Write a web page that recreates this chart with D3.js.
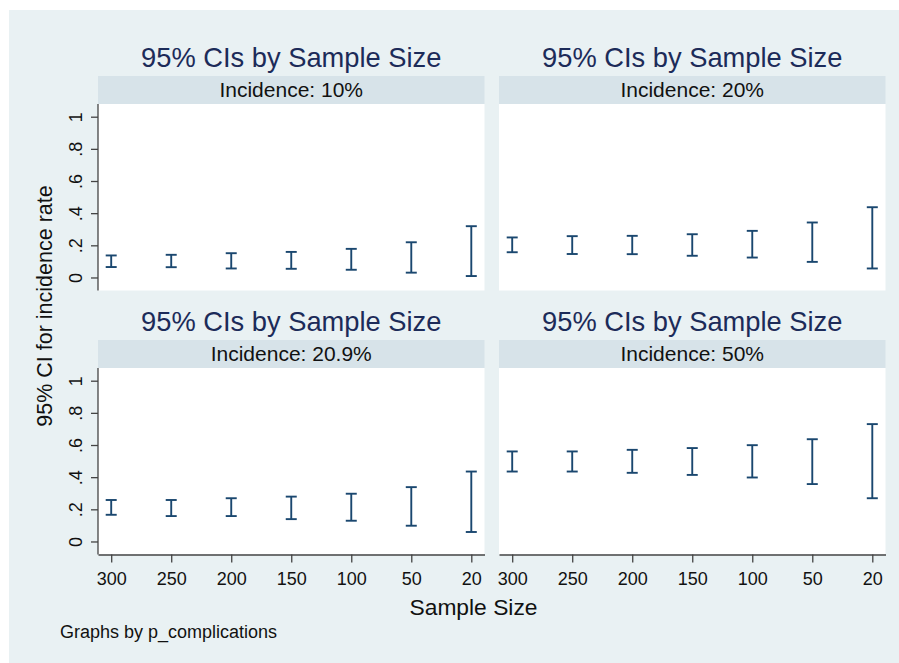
<!DOCTYPE html>
<html lang="en">
<head>
    <meta charset="UTF-8">
    <title>95% CIs by Sample Size</title>
    <script src="https://d3js.org/d3.v7.min.js"></script>
    <style>
        body { margin: 0; background: #fff; }
        svg { display: block; font-family: "Liberation Sans", Arial, Helvetica, sans-serif; }
    </style>
</head>
<body>
<div id="chart"></div>

<script>
    // data
    const sampleSizes = ["300", "250", "200", "150", "100", "50", "20"];
    const panelTitle = "95% CIs by Sample Size";
    const incidenceLabels = ["Incidence: 10%", "Incidence: 20%", "Incidence: 20.9%", "Incidence: 50%"];

    const lower10 = [0.065, 0.064, 0.056, 0.054, 0.048, 0.030, 0.009];
    const upper10 = [0.137, 0.141, 0.151, 0.159, 0.178, 0.219, 0.319];
    const lower20 = [0.157, 0.146, 0.145, 0.135, 0.124, 0.097, 0.056];
    const upper20 = [0.249, 0.257, 0.259, 0.269, 0.290, 0.342, 0.437];
    const lower209 = [0.166, 0.158, 0.158, 0.139, 0.129, 0.098, 0.059];
    const upper209 = [0.258, 0.258, 0.269, 0.279, 0.297, 0.338, 0.435];
    const lower50 = [0.435, 0.435, 0.427, 0.414, 0.398, 0.357, 0.269];
    const upper50 = [0.560, 0.560, 0.570, 0.581, 0.599, 0.636, 0.730];

    const yTicks = [0, 0.2, 0.4, 0.6, 0.8, 1];
    const yTickLabels = ["0", ".2", ".4", ".6", ".8", "1"];

    const seriesLower = [lower10, lower20, lower209, lower50];
    const seriesUpper = [upper10, upper20, upper209, upper50];

    const W = 899, H = 663;
    const plotW = 386.5, plotH = 186.5, stripH = 28;
    const colX = [98, 499];
    const rowY = [76, 340];   // strip tops

    const navy = "#1a476f";

    const svg = d3.select("#chart")
        .append("svg")
        .attr("width", W)
        .attr("height", H);

    svg.append("rect")
        .attr("x", 9).attr("y", 10)
        .attr("width", W - 9).attr("height", H - 10)
        .attr("fill", "#e9f1f3");

    const x = d3.scalePoint().domain(sampleSizes).range([0, plotW]).padding(0.22);
    const y = d3.scaleLinear().domain([-0.081, 1.079]).range([plotH, 0]);

    incidenceLabels.forEach((lab, i) => {
        const col = i % 2, row = Math.floor(i / 2);
        const g = svg.append("g")
            .attr("transform", `translate(${colX[col]},${rowY[row]})`);

        g.append("text")
            .attr("x", plotW / 2).attr("y", -9)
            .attr("text-anchor", "middle")
            .attr("font-size", 27.3)
            .attr("fill", "#1c2b59")
            .text(panelTitle);

        g.append("rect")
            .attr("width", plotW).attr("height", stripH)
            .attr("fill", "#d7e3e9");

        g.append("text")
            .attr("x", plotW / 2).attr("y", 20.5)
            .attr("text-anchor", "middle")
            .attr("font-size", 21)
            .attr("fill", "#111")
            .text(lab);

        const p = g.append("g").attr("transform", `translate(0,${stripH})`);

        p.append("rect")
            .attr("width", plotW).attr("height", plotH)
            .attr("fill", "#fff");

        const rows = sampleSizes.map((s, j) => ({s, lo: seriesLower[i][j], hi: seriesUpper[i][j]}));

        const bars = p.selectAll(".ci").data(rows).join("g").attr("class", "ci");
        bars.append("line")
            .attr("x1", d => x(d.s)).attr("x2", d => x(d.s))
            .attr("y1", d => y(d.lo)).attr("y2", d => y(d.hi));
        bars.append("line")
            .attr("x1", d => x(d.s) - 5.5).attr("x2", d => x(d.s) + 5.5)
            .attr("y1", d => y(d.lo)).attr("y2", d => y(d.lo));
        bars.append("line")
            .attr("x1", d => x(d.s) - 5.5).attr("x2", d => x(d.s) + 5.5)
            .attr("y1", d => y(d.hi)).attr("y2", d => y(d.hi));
        bars.selectAll("line").attr("stroke", navy).attr("stroke-width", 1.9);

        if (col === 0) {
            const ya = p.append("g")
                .call(d3.axisLeft(y).tickValues(yTicks).tickFormat((d, k) => yTickLabels[k]).tickSize(7).tickSizeOuter(0));
            ya.select(".domain").attr("d", `M0,0V${plotH}`);
            ya.selectAll(".tick text")
                .attr("transform", "rotate(-90)")
                .attr("x", 0).attr("y", -16).attr("dy", null)
                .attr("text-anchor", "middle")
                .attr("font-size", 18)
                .attr("fill", "#111");
            ya.selectAll("path, line").attr("stroke", "#444").attr("stroke-width", 1.3);
        }
        if (row === 1) {
            const xa = p.append("g")
                .attr("transform", `translate(0,${plotH})`)
                .call(d3.axisBottom(x).tickSize(8).tickSizeOuter(0));
            xa.selectAll(".tick text")
                .attr("y", 30).attr("dy", null)
                .attr("font-size", 18)
                .attr("fill", "#111");
            xa.selectAll("path, line").attr("stroke", "#444").attr("stroke-width", 1.3);
        }
        g.selectAll(".tick").attr("font-family", null);
        g.selectAll("g").attr("font-family", null);
    });

    svg.append("text")
        .attr("transform", "translate(52,306) rotate(-90)")
        .attr("text-anchor", "middle")
        .attr("font-size", 21.5)
        .attr("fill", "#111")
        .text("95% CI for incidence rate");

    svg.append("text")
        .attr("x", 473.5).attr("y", 615)
        .attr("text-anchor", "middle")
        .attr("font-size", 22.8)
        .attr("fill", "#111")
        .text("Sample Size");

    svg.append("text")
        .attr("x", 60).attr("y", 638)
        .attr("font-size", 18)
        .attr("fill", "#111")
        .text("Graphs by p_complications");
</script>
</body>
</html>
